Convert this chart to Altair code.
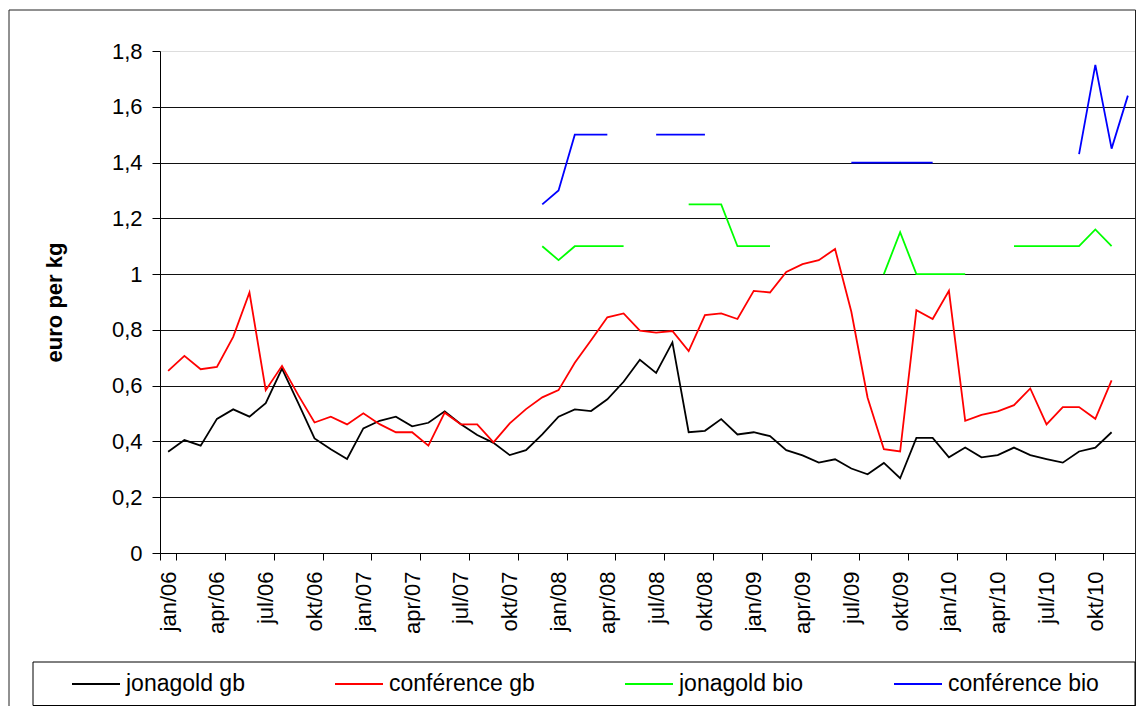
import altair as alt
import pandas as pd

month_names = ["jan", "feb", "mrt", "apr", "mei", "jun", "jul", "aug", "sep", "okt", "nov", "dec"]
years = ["06", "07", "08", "09", "10"]
months = [f"{m}/{y}" for y in years for m in month_names]
tick_labels = [m for m in months if m.split("/")[0] in ("jan", "apr", "jul", "okt")]

N = None
jonagold_gb = [0.363, 0.405, 0.385, 0.481, 0.515, 0.489, 0.537, 0.661, 0.537, 0.411,
               0.372, 0.337, 0.447, 0.474, 0.489, 0.454, 0.467, 0.508, 0.462, 0.423,
               0.395, 0.351, 0.369, 0.425, 0.489, 0.515, 0.509, 0.551, 0.614, 0.693,
               0.646, 0.755, 0.433, 0.438, 0.480, 0.425, 0.433, 0.419, 0.369, 0.350,
               0.324, 0.336, 0.303, 0.282, 0.323, 0.268, 0.413, 0.413, 0.343, 0.378,
               0.343, 0.351, 0.378, 0.351, 0.337, 0.324, 0.364, 0.378, 0.433, N]
conference_gb = [0.653, 0.707, 0.659, 0.667, 0.775, 0.934, 0.584, 0.671, 0.566, 0.468,
                 0.489, 0.461, 0.501, 0.462, 0.433, 0.433, 0.385, 0.503, 0.461, 0.461,
                 0.397, 0.465, 0.516, 0.558, 0.584, 0.682, 0.763, 0.845, 0.859, 0.797,
                 0.790, 0.796, 0.724, 0.853, 0.859, 0.839, 0.940, 0.934, 1.008, 1.036,
                 1.050, 1.090, 0.865, 0.557, 0.372, 0.364, 0.871, 0.839, 0.940, 0.474,
                 0.495, 0.508, 0.530, 0.590, 0.461, 0.523, 0.523, 0.481, 0.619, N]
jonagold_bio = [N, N, N, N, N, N, N, N, N, N,
                N, N, N, N, N, N, N, N, N, N,
                N, N, N, 1.10, 1.05, 1.10, 1.10, 1.10, 1.10, N,
                N, N, 1.25, 1.25, 1.25, 1.10, 1.10, 1.10, N, N,
                N, N, N, N, 1.00, 1.15, 1.00, 1.00, 1.00, 1.00,
                N, N, 1.10, 1.10, 1.10, 1.10, 1.10, 1.16, 1.10, N]
conference_bio = [N, N, N, N, N, N, N, N, N, N,
                  N, N, N, N, N, N, N, N, N, N,
                  N, N, N, 1.25, 1.30, 1.50, 1.50, 1.50, N, N,
                  1.50, 1.50, 1.50, 1.50, N, N, N, N, N, N,
                  N, N, 1.40, 1.40, 1.40, 1.40, 1.40, 1.40, N, N,
                  N, N, N, N, N, N, 1.43, 1.75, 1.45, 1.64]

series_names = ["jonagold gb", "conférence gb", "jonagold bio", "conférence bio"]
series_colors = ["#000000", "#FF0000", "#00FF00", "#0000FF"]
series_values = [jonagold_gb, conference_gb, jonagold_bio, conference_bio]
y_ticks = [0, 0.2, 0.4, 0.6, 0.8, 1.0, 1.2, 1.4, 1.6, 1.8]

rows = []
for name, vals in zip(series_names, series_values):
    for i, (m, v) in enumerate(zip(months, vals)):
        rows.append({"month": m, "idx": i, "series": name, "price": v})
df = pd.DataFrame(rows)

FONT = "Liberation Sans"

lines = alt.Chart(df).mark_line(strokeWidth=1.8).encode(
    x=alt.X("month:O", sort=months, bandPosition=0.5,
            scale=alt.Scale(type="band", domain=months, paddingInner=0, paddingOuter=0),
            axis=alt.Axis(values=tick_labels, labelAngle=270, labelFontSize=22, labelFont=FONT,
                          labelColor="black", tickBand="extent", tickSize=7, tickColor="black",
                          domainColor="black", grid=False, title=None, labelPadding=11)),
    y=alt.Y("price:Q", scale=alt.Scale(domain=[0, 1.8], nice=False),
            axis=alt.Axis(values=y_ticks, labelExpr="replace(format(datum.value, '.1~f'), '.', ',')",
                          labelFontSize=22, labelFont=FONT, labelColor="black",
                          tickSize=8, tickColor="black", domainColor="black", labelPadding=10,
                          gridColor=alt.condition("datum.value > 1.7", alt.value("#dddddd"), alt.value("#111111")),
                          title="euro per kg", titleFont=FONT, titleFontSize=22, titleFontWeight="bold",
                          titleColor="black", titleX=-106, titleBaseline="middle")),
    color=alt.Color("series:N", sort=series_names,
                    scale=alt.Scale(domain=series_names, range=series_colors),
                    legend=alt.Legend(orient="none", legendX=-89, legendY=608, direction="horizontal",
                                      columns=4, title=None, symbolType="stroke", symbolSize=2304,
                                      symbolStrokeWidth=1.8, labelFontSize=23, labelFont=FONT,
                                      labelColor="black", columnPadding=86, labelOffset=5, labelLimit=300)),
    order=alt.Order("idx:Q"),
)

one = pd.DataFrame({"k": [0]})
outer_box = alt.Chart(one).mark_rect(fillOpacity=0, stroke="#222222", strokeWidth=1).encode(
    x=alt.value(-151), x2=alt.value(975.5), y=alt.value(-41), y2=alt.value(720))
legend_box = alt.Chart(one).mark_rect(fillOpacity=0, stroke="black", strokeWidth=1).encode(
    x=alt.value(-127), x2=alt.value(975), y=alt.value(611), y2=alt.value(654.5))

chart = alt.layer(lines, outer_box, legend_box).properties(
    width=976, height=502, autosize="none",
    padding={"left": 152, "top": 43, "right": 0, "bottom": 153},
).configure_view(stroke=None).configure(background="white")

chart.save("out.html", embed_options={"renderer": "svg", "actions": False})
